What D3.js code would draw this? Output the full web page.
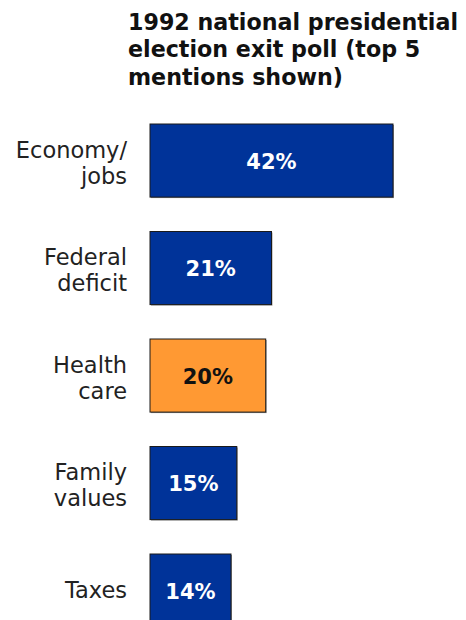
<!DOCTYPE html>
<html>
<head>
<meta charset="utf-8">
<script src="https://cdn.jsdelivr.net/npm/d3@7"></script>
<style>
  html, body { margin: 0; padding: 0; background: #fff; }
  svg { display: block; font-family: "DejaVu Sans", Verdana, sans-serif; }
</style>
</head>
<body>
<svg id="chart" width="466" height="620"></svg>
<script>
// Top issues from the 1992 exit poll (percent of voters mentioning each)
const categories = [["Economy/", "jobs"], ["Federal", "deficit"], ["Health", "care"], ["Family", "values"], ["Taxes"]];
const values = [42, 21, 20, 15, 14];
const highlighted = [false, false, true, false, false];
const titleLines = ["1992 national presidential", "election exit poll (top 5", "mentions shown)"];

const svg = d3.select("#chart");
const keys = categories.map(c => c.join(" "));

const x = d3.scaleLinear().domain([0, 42]).range([150, 393]);
const y = d3.scaleBand().domain(keys).range([89.6, 661.5]).paddingInner(0.32).paddingOuter(0.32);

// Title
svg.append("text")
  .attr("x", 128).attr("y", 30)
  .attr("font-size", 22.2).attr("font-weight", "bold").attr("fill", "#111")
  .selectAll("tspan").data(titleLines).join("tspan")
  .attr("x", 128).attr("dy", (d, i) => i === 0 ? 0 : 27.4)
  .text(d => d);

const rows = svg.selectAll("g.row").data(keys).join("g").attr("class", "row");

// Shadow under each bar
rows.append("rect")
  .attr("x", x(0) + 1).attr("y", d => y(d) + 1)
  .attr("width", (d, i) => x(values[i]) - x(0))
  .attr("height", y.bandwidth())
  .attr("fill", "#999");

rows.append("rect")
  .attr("x", x(0)).attr("y", d => y(d))
  .attr("width", (d, i) => x(values[i]) - x(0))
  .attr("height", y.bandwidth())
  .attr("fill", (d, i) => highlighted[i] ? "#ff9933" : "#003399")
  .attr("stroke", "#1a1a1a").attr("stroke-width", 1);

// Value labels
rows.append("text")
  .attr("x", (d, i) => (x(0) + x(values[i])) / 2)
  .attr("y", d => y(d) + y.bandwidth() / 2)
  .attr("dy", "0.4em")
  .attr("text-anchor", "middle")
  .attr("font-size", 21).attr("font-weight", "bold")
  .attr("fill", (d, i) => highlighted[i] ? "#111" : "#fff")
  .text((d, i) => values[i] + "%");

// Category labels, one or two lines beside each bar
rows.append("text")
  .attr("text-anchor", "end").attr("font-size", 22.5).attr("fill", "#222")
  .each(function(d, i) {
    const lines = categories[i];
    const cy = y(d) + y.bandwidth() / 2;
    const lh = 26;
    d3.select(this).selectAll("tspan").data(lines).join("tspan")
      .attr("x", 127)
      .attr("y", (l, j) => lines.length === 1 ? cy + 7.5 : cy - 3 + j * lh)
      .text(l => l);
  });
</script>
</body>
</html>
